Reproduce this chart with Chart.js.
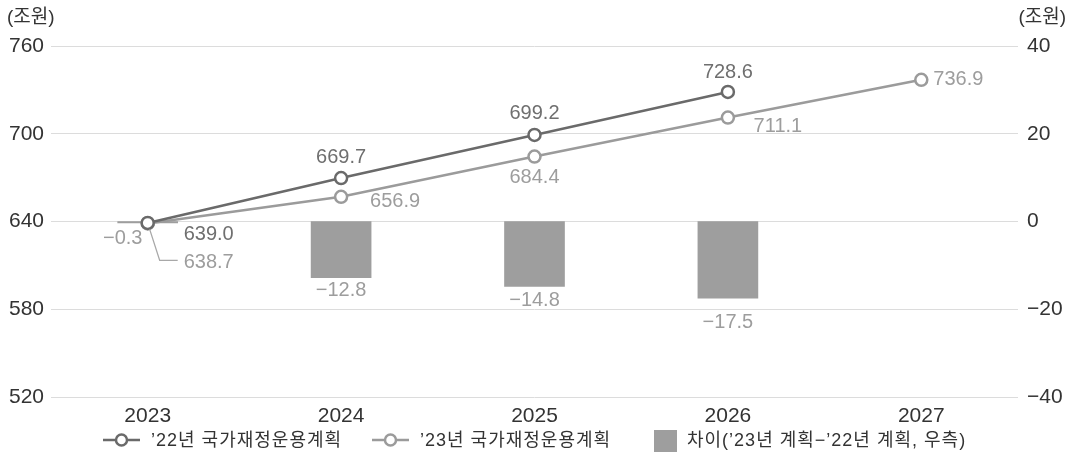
<!DOCTYPE html>
<html><head><meta charset="utf-8">
<script src="https://cdn.jsdelivr.net/npm/chart.js@4"></script>
<style>html,body{margin:0;padding:0;background:#fff}#wrap{width:1071px;height:457px;position:relative}</style>
</head><body><div id="wrap"><canvas id="c" width="1071" height="457"></canvas></div>
<script>
const categories = ['2023', '2024', '2025', '2026', '2027'];
const plan22 = [639.0, 669.7, 699.2, 728.6, null];
const plan23 = [638.7, 656.9, 684.4, 711.1, 736.9];
const diff = [-0.3, -12.8, -14.8, -17.5, null];
const seriesNames = ['’22년 국가재정운용계획', '’23년 국가재정운용계획', '차이(’23년 계획−’22년 계획, 우측)'];
const leftTicks = [520, 580, 640, 700, 760];
const rightTicks = [-40, -20, 0, 20, 40];
const unitLabel = '(조원)';

// label placement (pixel offsets from each mark)
const off22 = [[61, 12], [0, -21], [0, -21], [0, -19], null];
const off23 = [[61, 39], [54, 5], [0, 21], [50, 9], [12, 0, 'left']];
const offDiff = [[-25, 17, 'abs'], [0, 13], [0, 14], [0, 24], null];

const FONT = '"Liberation Sans", "Noto Sans CJK KR", sans-serif';
const C22 = '#6a6a6a', C23 = '#9b9b9b', CBAR = '#9e9e9e';
const fmt = v => (v < 0 ? '−' + Math.abs(v).toFixed(1) : v.toFixed(1));

const labelPlugin = {
  id: 'labels',
  afterDatasetsDraw(chart) {
    const ctx = chart.ctx;
    ctx.save();
    ctx.font = '20px ' + FONT;
    ctx.textBaseline = 'middle';
    const m22 = chart.getDatasetMeta(0).data, m23 = chart.getDatasetMeta(1).data, mb = chart.getDatasetMeta(2).data;
    plan22.forEach((v, i) => {
      if (v == null || !off22[i]) return;
      const p = m22[i];
      ctx.fillStyle = '#6f6f6f'; ctx.textAlign = 'center';
      ctx.fillText(fmt(v), p.x + off22[i][0], p.y + off22[i][1]);
    });
    plan23.forEach((v, i) => {
      if (v == null || !off23[i]) return;
      const p = m23[i];
      ctx.fillStyle = '#9d9d9d'; ctx.textAlign = off23[i][2] || 'center';
      ctx.fillText(fmt(v), p.x + off23[i][0], p.y + off23[i][1]);
      if (i === 0) {
        ctx.strokeStyle = '#a8a8a8'; ctx.lineWidth = 1.3;
        ctx.beginPath();
        ctx.moveTo(p.x + 2, p.y + 6);
        ctx.lineTo(p.x + 12, p.y + 37);
        ctx.lineTo(p.x + 30, p.y + 37);
        ctx.stroke();
      }
    });
    diff.forEach((v, i) => {
      if (v == null || !offDiff[i]) return;
      const b = mb[i];
      ctx.fillStyle = '#9d9d9d'; ctx.textAlign = 'center';
      const y = offDiff[i][2] === 'abs' ? b.base + offDiff[i][1] : b.y + offDiff[i][1];
      ctx.fillText(fmt(v), b.x + offDiff[i][0], y);
    });
    ctx.restore();
  },
  afterDraw(chart) {
    const ctx = chart.ctx;
    ctx.save();
    ctx.font = '19px ' + FONT;
    ctx.fillStyle = '#333';
    ctx.textBaseline = 'middle';
    ctx.textAlign = 'left';
    ctx.fillText(unitLabel, 7, 18);
    ctx.textAlign = 'right';
    ctx.fillText(unitLabel, 1066, 18);
    // legend
    const ly = 440;
    ctx.textAlign = 'left';
    ctx.font = '18px ' + FONT;
    ctx.letterSpacing = '1px';
    const drawLineItem = (x0, color, text) => {
      ctx.strokeStyle = color; ctx.lineWidth = 2.5;
      ctx.beginPath(); ctx.moveTo(x0, ly); ctx.lineTo(x0 + 37, ly); ctx.stroke();
      ctx.beginPath(); ctx.arc(x0 + 18.5, ly, 5.5, 0, Math.PI * 2);
      ctx.fillStyle = '#fff'; ctx.fill(); ctx.stroke();
      ctx.fillStyle = '#333';
      ctx.fillText(text, x0 + 48, ly + 1);
    };
    drawLineItem(103, C22, seriesNames[0]);
    drawLineItem(372, C23, seriesNames[1]);
    ctx.fillStyle = CBAR;
    ctx.fillRect(654, ly - 10, 23, 22);
    ctx.fillStyle = '#333';
    ctx.fillText(seriesNames[2], 687, ly + 1);
    ctx.restore();
  }
};

new Chart(document.getElementById('c'), {
  data: {
    labels: categories,
    datasets: [
      { type: 'line', label: seriesNames[0], data: plan22, yAxisID: 'y', order: 1,
        borderColor: C22, borderWidth: 2.5, pointRadius: 6, pointBorderWidth: 2.5,
        pointBackgroundColor: '#fff', pointBorderColor: C22, tension: 0, spanGaps: false },
      { type: 'line', label: seriesNames[1], data: plan23, yAxisID: 'y', order: 2,
        borderColor: C23, borderWidth: 2.5, pointRadius: 6, pointBorderWidth: 2.5,
        pointBackgroundColor: '#fff', pointBorderColor: C23, tension: 0 },
      { type: 'bar', label: seriesNames[2], data: diff, yAxisID: 'y1', order: 3,
        backgroundColor: CBAR, barThickness: 60 }
    ]
  },
  options: {
    responsive: false,
    animation: false,
    layout: { padding: { top: 46, bottom: 30, left: 0, right: 0 } },
    plugins: { legend: { display: false }, tooltip: { enabled: false } },
    scales: {
      x: {
        offset: true,
        grid: { display: false, drawTicks: false },
        border: { display: false },
        ticks: { color: '#333', font: { family: FONT, size: 21 }, padding: 7 },
        afterFit(s) { s.height = 30; }
      },
      y: {
        position: 'left', min: leftTicks[0], max: leftTicks[leftTicks.length - 1],
        afterBuildTicks(s) { s.ticks = leftTicks.map(v => ({ value: v })); },
        grid: { color: '#dcdcdc', lineWidth: 1, drawTicks: false },
        border: { display: false },
        ticks: { color: '#333', font: { family: FONT, size: 21 }, padding: 7 },
        afterFit(s) { s.width = 51; }
      },
      y1: {
        position: 'right', min: rightTicks[0], max: rightTicks[rightTicks.length - 1],
        afterBuildTicks(s) { s.ticks = rightTicks.map(v => ({ value: v })); },
        grid: { display: false, drawTicks: false },
        border: { display: false },
        ticks: { color: '#333', font: { family: FONT, size: 21 }, padding: 9,
          callback: v => (v < 0 ? '−' + Math.abs(v) : String(v)) },
        afterFit(s) { s.width = 53; }
      }
    }
  },
  plugins: [labelPlugin]
});
</script></body></html>
